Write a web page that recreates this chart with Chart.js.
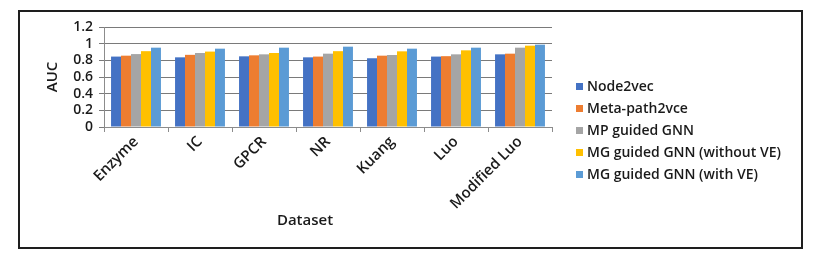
<!DOCTYPE html>
<html>
<head>
<meta charset="utf-8">
<script src="https://cdn.jsdelivr.net/npm/chart.js@4.4.1/dist/chart.umd.min.js"></script>
<style>
  html, body { margin: 0; padding: 0; background: #fff; }
  #wrap { position: relative; width: 834px; height: 264px; }
  #frame { position: absolute; left: 18px; top: 10px; width: 785px; height: 239px; box-sizing: border-box; border: 2px solid #1e1e1e; pointer-events: none; }
  canvas { position: absolute; left: 0; top: 0; }
</style>
</head>
<body>
<div id="wrap">
  <canvas id="c" width="834" height="264"></canvas>
  <div id="frame"></div>
</div>
<script>
const categories = ["Enzyme", "IC", "GPCR", "NR", "Kuang", "Luo", "Modified Luo"];
const seriesNames = ["Node2vec", "Meta-path2vce", "MP guided GNN", "MG guided GNN (without VE)", "MG guided GNN (with VE)"];
const node2vec     = [0.845, 0.836, 0.848, 0.836, 0.825, 0.845, 0.872];
const metaPath2vce = [0.856, 0.866, 0.860, 0.845, 0.856, 0.850, 0.880];
const mpGuidedGNN  = [0.875, 0.888, 0.872, 0.880, 0.864, 0.872, 0.952];
const mgWithoutVE  = [0.910, 0.905, 0.888, 0.910, 0.908, 0.920, 0.976];
const mgWithVE     = [0.952, 0.940, 0.952, 0.964, 0.940, 0.952, 0.988];
const yTicks = [0, 0.2, 0.4, 0.6, 0.8, 1, 1.2];
const colors = ["#4472C4", "#ED7D31", "#A5A5A5", "#FFC000", "#5B9BD5"];

const seriesValues = [node2vec, metaPath2vce, mpGuidedGNN, mgWithoutVE, mgWithVE];
const FONT = "'Open Sans', 'DejaVu Sans', sans-serif";

const overlay = {
  id: 'overlay',
  afterDraw(chart) {
    const ctx = chart.ctx;
    ctx.save();
    // legend
    ctx.font = "600 14px " + FONT;
    ctx.textBaseline = 'middle';
    ctx.textAlign = 'left';
    const ys = [86, 108, 130, 152, 174];
    chart.data.datasets.forEach((ds, i) => {
      ctx.fillStyle = ds.backgroundColor;
      ctx.fillRect(576, ys[i] - 3, 7, 7);
      ctx.fillStyle = '#1a1a1a';
      ctx.fillText(ds.label, 587, ys[i] + 1);
    });
    // x axis title
    ctx.font = "600 15px " + FONT;
    ctx.textAlign = 'center';
    ctx.fillText("Dataset", 305, 221);
    ctx.restore();
  }
};

new Chart(document.getElementById('c'), {
  type: 'bar',
  data: {
    labels: categories,
    datasets: seriesNames.map((n, i) => ({
      label: n,
      data: seriesValues[i],
      backgroundColor: colors[i],
      borderWidth: 0,
      categoryPercentage: 0.78,
      barPercentage: 1.0
    }))
  },
  options: {
    responsive: false,
    animation: false,
    devicePixelRatio: 1,
    layout: { padding: { left: 36, right: 282, top: 27, bottom: 37 } },
    plugins: { legend: { display: false }, tooltip: { enabled: false } },
    scales: {
      x: {
        grid: { offset: true, drawOnChartArea: false, drawTicks: true, tickLength: 5, color: '#8c8c8c' },
        border: { color: '#8c8c8c' },
        ticks: { minRotation: 45, maxRotation: 45, autoSkip: false, color: '#1a1a1a', font: { family: FONT, size: 15, weight: '600' }, padding: 1 },
        afterFit(s) { s.height = 100; }
      },
      y: {
        min: 0, max: 1.2,
        afterBuildTicks(s) { s.ticks = yTicks.map(v => ({ value: v })); },
        grid: { color: '#7a7a7a', tickLength: 5, lineWidth: 1 },
        border: { color: '#8c8c8c' },
        ticks: { autoSkip: false, color: '#1a1a1a', font: { family: FONT, size: 14, weight: '600' }, padding: 6, callback: v => String(+(+v).toFixed(1)) },
        title: { display: true, text: 'AUC', color: '#1a1a1a', font: { family: FONT, size: 15, weight: '600' }, padding: { top: 8, bottom: 0 } },
        afterFit(s) { s.width = 68; }
      }
    }
  },
  plugins: [overlay]
});
</script>
</body>
</html>
